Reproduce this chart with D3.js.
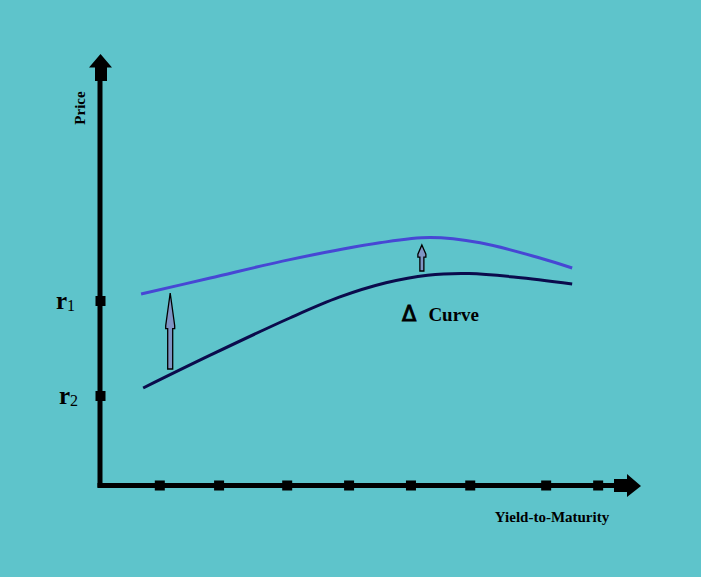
<!DOCTYPE html>
<html>
<head>
<meta charset="utf-8">
<script src="https://cdn.jsdelivr.net/npm/d3@7"></script>
<style>
  body { margin: 0; background: #5ec4cb; }
  svg { display: block; }
</style>
</head>
<body>
<div class="chart"></div>
<script>
// data (axis units 0-100)
var upperX = [7.9, 21.2, 36.5, 53.8, 63.5, 73.1, 84.6, 90.8];
var upperY = [48, 52, 56.6, 60.8, 62.1, 60.8, 57, 54.5];
var lowerX = [8.3, 21.2, 36.5, 46, 55, 63, 71, 80, 90.8];
var lowerY = [24.5, 32.7, 42, 47.2, 50.8, 52.7, 53.1, 52.2, 50.5];
var xTicks = [11.5, 22.9, 36.0, 47.9, 59.8, 71.2, 85.8, 95.8];
var yTicks = [46.25, 22.5];
var yTickNames = ["1", "2"];
// shift arrows: [x, from, to]
var shifts = [[13.5, 29.25, 48.25], [61.9, 53.75, 60.25]];

var width = 701, height = 577;

var x = d3.scaleLinear().domain([0, 100]).range([100, 620]);
var y = d3.scaleLinear().domain([0, 100]).range([486, 86]);

var svg = d3.select(".chart")
  .append("svg")
  .attr("width", width)
  .attr("height", height);

svg.append("rect")
  .attr("width", width)
  .attr("height", height)
  .attr("fill", "#5ec4cb");

// axes
var ax = svg.append("g");
ax.append("line")
  .attr("x1", x(0)).attr("y1", y(0) + 1.5)
  .attr("x2", x(0)).attr("y2", 70)
  .attr("stroke", "#000").attr("stroke-width", 5);
ax.append("line")
  .attr("x1", x(0) - 2.5).attr("y1", y(0) - 0.5)
  .attr("x2", 620).attr("y2", y(0) - 0.5)
  .attr("stroke", "#000").attr("stroke-width", 5);

// y arrow head
ax.append("path")
  .attr("d", "M" + (x(0) + 0.5) + ",54 L112,67.5 L107,67.5 L107,81 L95,81 L95,67.5 L89,67.5 Z")
  .attr("fill", "#000");
// x arrow head
ax.append("path")
  .attr("d", "M641," + (y(0)) + " L627,474 L627,479 L614,479 L614,492 L627,492 L627,497 Z")
  .attr("fill", "#000");

// tick squares
ax.selectAll(".xt")
  .data(xTicks)
  .enter().append("rect")
  .attr("class", "xt")
  .attr("x", function (d) { return x(d) - 5; })
  .attr("y", y(0) - 5.5)
  .attr("width", 10)
  .attr("height", 10)
  .attr("fill", "#000");

ax.selectAll(".yt")
  .data(yTicks)
  .enter().append("rect")
  .attr("class", "yt")
  .attr("x", x(0) - 4.5)
  .attr("y", function (d) { return y(d) - 5; })
  .attr("width", 10)
  .attr("height", 10)
  .attr("fill", "#000");

// r1 / r2 labels
var lab = ax.selectAll(".yl")
  .data(yTicks)
  .enter().append("text")
  .attr("class", "yl")
  .attr("x", function (d, i) { return i == 0 ? 56 : 59; })
  .attr("y", function (d) { return y(d) + 8; })
  .attr("font-family", "'Liberation Serif', serif")
  .attr("font-weight", "bold")
  .attr("font-size", 25)
  .attr("fill", "#000");
lab.append("tspan").text("r");
lab.append("tspan")
  .attr("font-size", 16)
  .attr("font-weight", "normal")
  .attr("dy", 2)
  .text(function (d, i) { return yTickNames[i]; });

// axis titles
svg.append("text")
  .attr("transform", "translate(85,108) rotate(-90)")
  .attr("text-anchor", "middle")
  .attr("font-family", "'Liberation Serif', serif")
  .attr("font-weight", "bold")
  .attr("font-size", 15)
  .text("Price");

svg.append("text")
  .attr("x", 552)
  .attr("y", 522)
  .attr("text-anchor", "middle")
  .attr("font-family", "'Liberation Serif', serif")
  .attr("font-weight", "bold")
  .attr("font-size", 15)
  .text("Yield-to-Maturity");

// curves
var line = d3.line()
  .x(function (d) { return x(d[0]); })
  .y(function (d) { return y(d[1]); })
  .curve(d3.curveCatmullRom);

svg.append("path")
  .datum(d3.zip(upperX, upperY))
  .attr("d", line)
  .attr("fill", "none")
  .attr("stroke", "#4747d4")
  .attr("stroke-width", 3);

svg.append("path")
  .datum(d3.zip(lowerX, lowerY))
  .attr("d", line)
  .attr("fill", "none")
  .attr("stroke", "#0b0b4c")
  .attr("stroke-width", 3);

// shift arrows
function arrowPath(d) {
  var cx = x(d[0]), y0 = y(d[1]), y1 = y(d[2]);
  var len = y0 - y1;
  var hb = y1 + len * 0.47;
  var sw = len > 40 ? 2.5 : 2, hw = len > 40 ? 4.5 : 4;
  return "M" + cx + "," + y1 +
    " L" + (cx + hw) + "," + (hb - 3) +
    " L" + (cx + hw) + "," + hb +
    " L" + (cx + sw) + "," + hb +
    " L" + (cx + sw) + "," + y0 +
    " L" + (cx - sw) + "," + y0 +
    " L" + (cx - sw) + "," + hb +
    " L" + (cx - hw) + "," + hb +
    " L" + (cx - hw) + "," + (hb - 3) + " Z";
}

svg.selectAll(".shift")
  .data(shifts)
  .enter().append("path")
  .attr("class", "shift")
  .attr("d", arrowPath)
  .attr("fill", "#7f95c4")
  .attr("stroke", "#000")
  .attr("stroke-width", 1.3)
  .attr("stroke-linejoin", "miter");

// delta label
var dl = svg.append("text")
  .attr("x", 402)
  .attr("y", 321)
  .attr("font-family", "'Liberation Serif', serif")
  .attr("font-weight", "bold")
  .attr("font-size", 19);
dl.append("tspan")
  .attr("font-family", "'DejaVu Sans', sans-serif")
  .attr("font-weight", "normal")
  .attr("font-size", 21)
  .attr("stroke", "#000")
  .attr("stroke-width", 0.9)
  .text("Δ");
dl.append("tspan")
  .attr("dx", 12)
  .text("Curve");
</script>
</body>
</html>
